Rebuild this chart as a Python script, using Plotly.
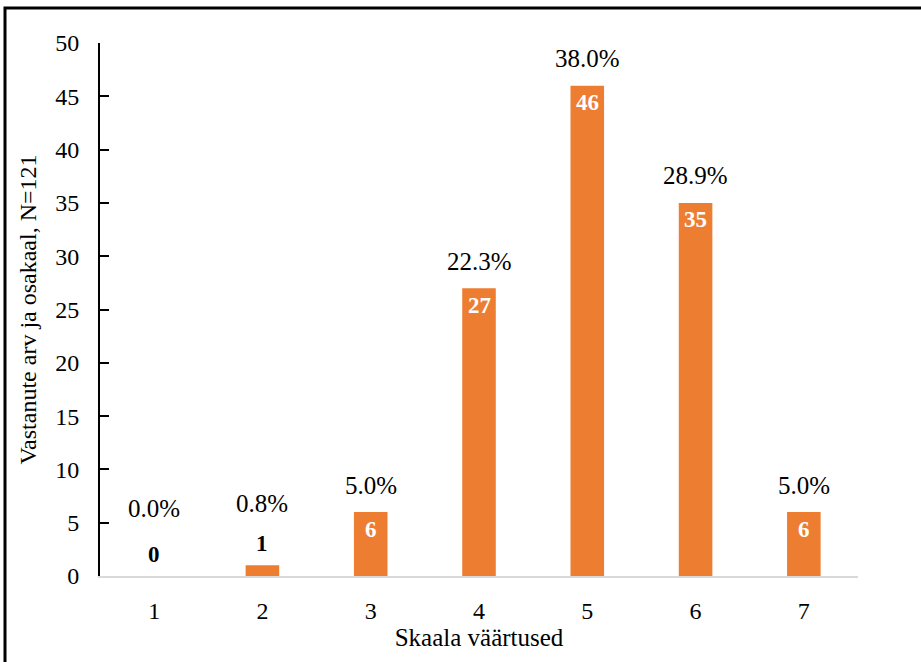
import plotly.graph_objects as go

# Survey answers on a 1–7 scale
scale_values = ["1", "2", "3", "4", "5", "6", "7"]
counts = [0, 1, 6, 27, 46, 35, 6]
shares = ["0.0%", "0.8%", "5.0%", "22.3%", "38.0%", "28.9%", "5.0%"]

W, H = 921, 662
L, R, T, B = 100, 63, 43, 86
plot_w, plot_h = W - L - R, H - T - B

BAR_COLOR = "#ED7D31"
FONT = "Liberation Serif"

fig = go.Figure()
fig.add_trace(go.Bar(
    x=scale_values, y=counts, marker_color=BAR_COLOR,
    marker_line_width=0, width=0.31, hoverinfo="skip",
))

annotations = []
for i, (n, pct) in enumerate(zip(counts, shares)):
    inside = n >= 3
    # count label: inside the top of the bar, or above a very short bar
    annotations.append(dict(
        x=i, y=n, xref="x", yref="y", text=f"<b>{n}</b>", showarrow=False,
        font=dict(family=FONT, size=23, color="white" if inside else "black"),
        yanchor="middle", yshift=-17 if inside else 22,
    ))
    # share label above
    annotations.append(dict(
        x=i, y=n, xref="x", yref="y", text=pct, showarrow=False,
        font=dict(family=FONT, size=25, color="black"),
        yanchor="middle", yshift=27 if inside else 68 - 6 * n,
    ))

fig.update_layout(
    width=W, height=H,
    margin=dict(l=L, r=R, t=T, b=B),
    paper_bgcolor="white", plot_bgcolor="white",
    showlegend=False,
    font=dict(family=FONT, size=24, color="black"),
    annotations=annotations,
    xaxis=dict(
        type="category", showgrid=False, showline=True,
        linecolor="#d9d9d9", linewidth=2, ticks="",
        tickfont=dict(family=FONT, size=24, color="black"),
        ticklabelstandoff=12,
        title=dict(text="Skaala väärtused", standoff=4,
                   font=dict(family=FONT, size=25, color="black")),
    ),
    yaxis=dict(
        range=[0, 50], dtick=5, showgrid=False, showline=True,
        linecolor="black", linewidth=2, zeroline=False,
        ticks="inside", ticklen=9, tickwidth=2, tickcolor="black",
        tickfont=dict(family=FONT, size=24, color="black"),
        ticklabelstandoff=14,
        title=dict(text="Vastanute arv ja osakaal, N=121", standoff=12,
                   font=dict(family=FONT, size=24, color="black")),
    ),
    shapes=[dict(
        type="rect", xref="paper", yref="paper",
        x0=(5 - L) / plot_w, x1=1.3,
        y0=-0.3, y1=(H - B - 8) / plot_h,
        line=dict(color="black", width=3), fillcolor="rgba(0,0,0,0)",
        layer="below",
    )],
)

fig.write_html("out.html")
